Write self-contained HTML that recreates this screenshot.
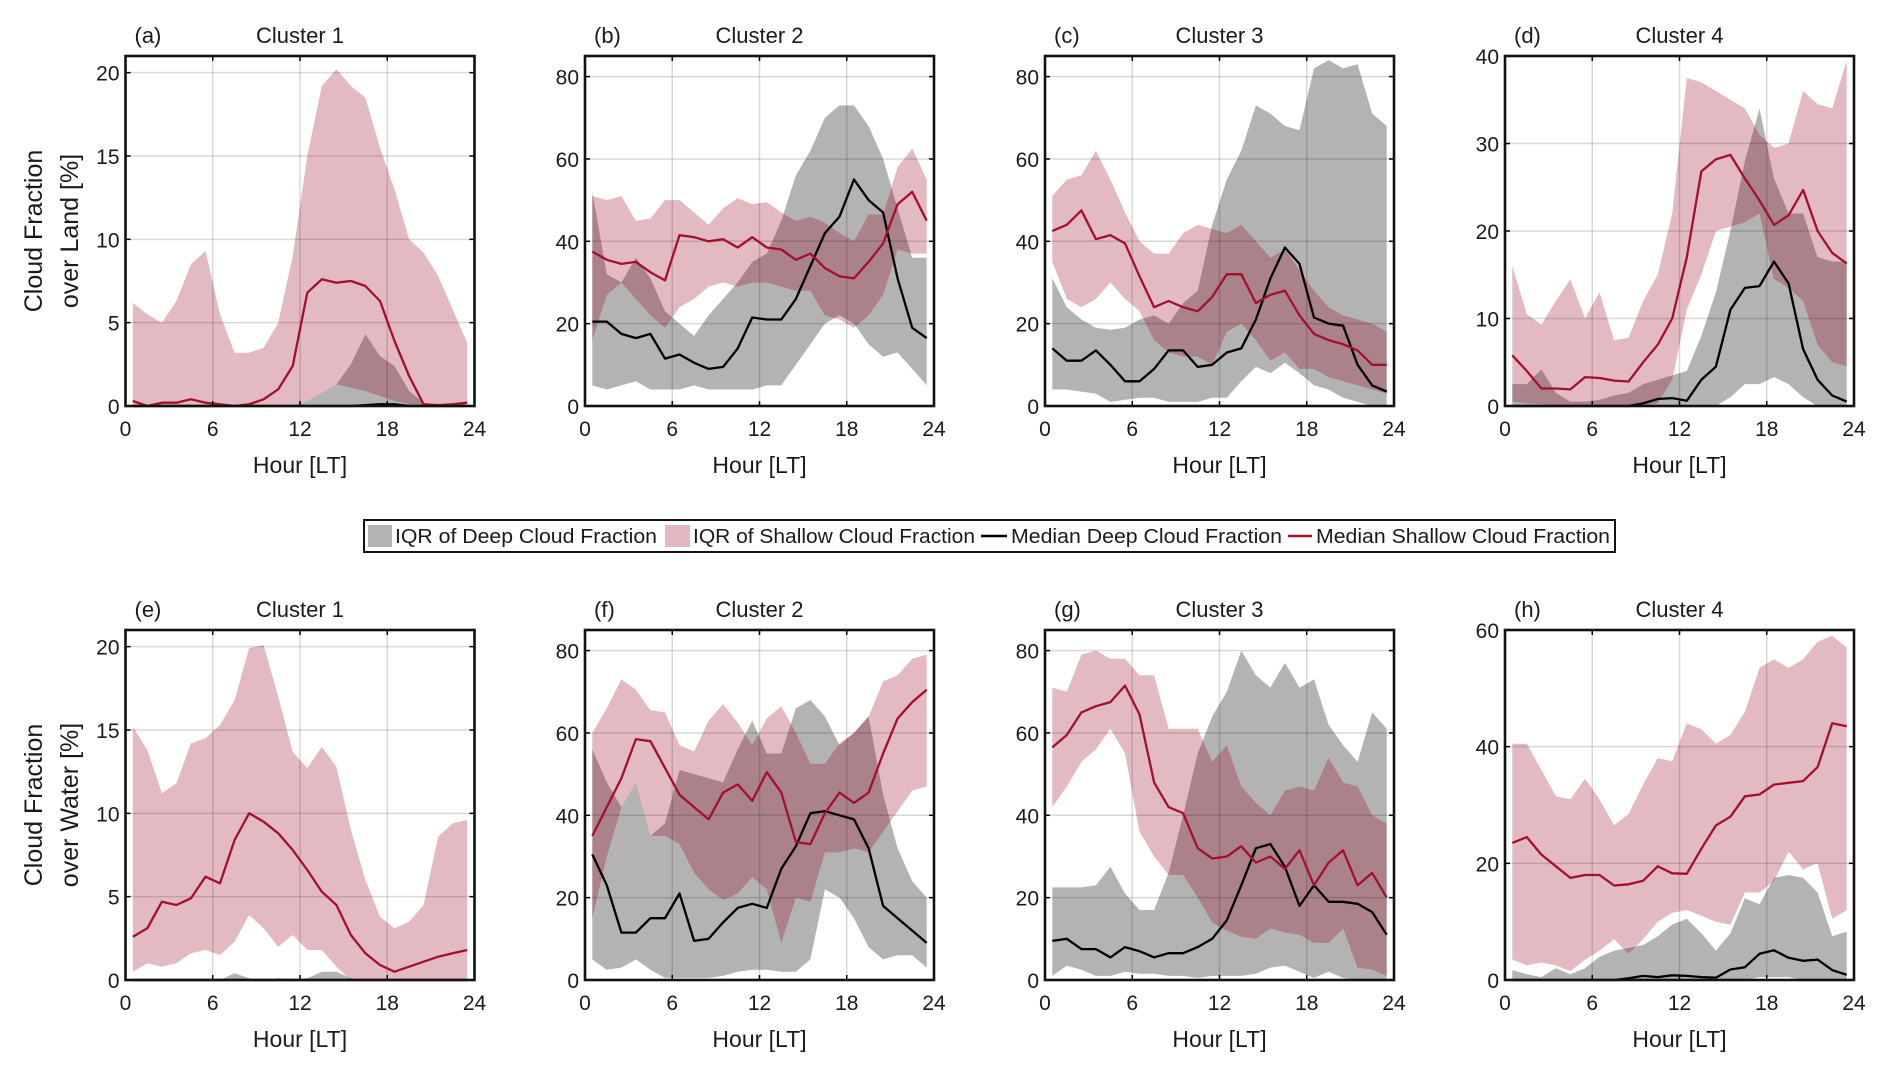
<!DOCTYPE html>
<html><head><meta charset="utf-8"><style>
html,body{margin:0;padding:0;background:#fff;}
svg{display:block;}
text{font-family:"Liberation Sans",sans-serif;fill:#1a1a1a;}
</style></head><body>
<svg id="fig" xmlns="http://www.w3.org/2000/svg" width="1892" height="1077" viewBox="0 0 1892 1077"></svg>
<script>
const hours=[0.5,1.5,2.5,3.5,4.5,5.5,6.5,7.5,8.5,9.5,10.5,11.5,12.5,13.5,14.5,15.5,16.5,17.5,18.5,19.5,20.5,21.5,22.5,23.5];
const xTicks=[0,6,12,18,24];
// (a) land cluster 1
const a_shUp=[6.2,5.5,5.0,6.3,8.5,9.3,5.5,3.2,3.2,3.5,5.0,9.0,15,19.2,20.2,19.2,18.5,15.5,13.0,10.0,9.2,7.8,5.8,3.8];
const a_shLo=[0,0,0,0,0,0,0,0,0,0,0,0,0.3,0.8,1.3,1.1,0.9,0.6,0.3,0.1,0,0,0,0];
const a_shMed=[0.3,0.0,0.2,0.2,0.4,0.2,0.1,0.0,0.1,0.4,1.0,2.4,6.8,7.6,7.4,7.5,7.2,6.3,3.9,1.8,0.1,0.05,0.1,0.2];
const a_dpUp=[0,0,0,0,0,0,0,0,0,0,0,0,0.3,0.8,1.3,2.5,4.3,3.0,2.4,0.9,0.2,0,0,0];
const a_dpLo=[0,0,0,0,0,0,0,0,0,0,0,0,0,0,0,0,0,0,0,0,0,0,0,0];
const a_dpMed=[0,0,0,0,0,0,0,0,0,0,0,0,0,0,0,0,0.05,0.1,0.1,0,0,0,0,0];
// (b) land cluster 2
const b_shUp=[51,50,51,45,45.5,50,50,47,44,48,50.5,49,49.5,47,45,46,44.5,42,40,46.5,46.5,58,62.5,55];
const b_shLo=[16,27,30,26,22,19,24,26,29,30,29,30,30,29,28,28,22,21,19,22,27,38,37,37];
const b_shMed=[37.5,35.5,34.5,35,32.5,30.5,41.5,41,40,40.5,38.5,41,38.5,38,35.5,37,33.5,31.5,31,35,39.5,49,52,45];
const b_dpUp=[52,32,30,36,31,23,20,17,22,26,30,35,37,45,56,62,70,73,73,68,60,48,36,36];
const b_dpLo=[5,4,5,6,4,4,4,5,4,4,4,4,5,5,10,15,20,22,20,15,12,13,9,5];
const b_dpMed=[20.5,20.5,17.5,16.5,17.5,11.5,12.5,10.5,9,9.5,14,21.5,21,21,26,34,42,46,55,50,47,31,19,16.5];
// (c) land cluster 3
const c_shUp=[51,55,56,62,55,47,40,37,37,42,44,43,42,44,40,36,38,33,28,24,22,21,20,18];
const c_shLo=[35,26,24,26,30,26,23,16,13,12,12,10,18,20,16,11,13,9,9,7,6,5,4,3];
const c_shMed=[42.5,44,47.5,40.5,41.5,39.5,31.5,24,25.5,24,23,26.5,32,32,25,27,28,22,17.5,16,15,13.5,10,10];
const c_dpUp=[31,24,21,19,18.5,19,21,22,20,25,28,44,55,62,73,71,68,67,82,84,82,83,71,68];
const c_dpLo=[4,4,3.5,3,1,1.5,2,2,1,1,1,2,2,6,9.5,8,10.5,8,5,4,2,1,0,0];
const c_dpMed=[14,11,11,13.5,10,6,6,9,13.5,13.5,9.5,10,13,14,21,31,38.5,34.5,21.5,20,19.5,10,5,3.5];
// (d) land cluster 4
const d_shUp=[16,10.5,9.3,12,14.5,10,13,7.5,7.8,12,15,22,37.5,37,36,35,34,31,29.5,30,36,34.5,34,39.5];
const d_shLo=[0.5,0.3,0.2,0.1,0,0,0,0,0,0,0.3,3,11,15,20,20.5,21,22,14.5,13.5,12,7,5,4.5];
const d_shMed=[5.8,4,2,2,1.9,3.3,3.2,2.9,2.8,5,7,10,17,26.8,28.2,28.7,26,23.5,20.7,21.8,24.7,20,17.5,16.3];
const d_dpUp=[2.5,2.5,4.2,1.5,0.5,0.5,0.7,1.2,1.5,2.5,3,3.5,4,8,13,20,28,34,26,22,22,17,16.5,16.5];
const d_dpLo=[0,0,0,0,0,0,0,0,0,0,0,0,0,0,0,1,2.5,2.5,3.3,2.5,1,0,0,0];
const d_dpMed=[0,0,0,0,0,0,0,0,0,0.3,0.8,0.9,0.6,3,4.5,11,13.5,13.7,16.5,14,6.5,3,1.2,0.5];
// (e) water cluster 1
const e_shUp=[15.2,13.8,11.2,11.8,14.2,14.5,15.3,16.8,19.9,20.1,17,13.7,12.7,14,12.8,9,6,3.8,3.1,3.5,4.5,8.6,9.4,9.6];
const e_shLo=[0.5,1.0,0.8,1.0,1.6,1.8,1.5,2.3,3.9,3.1,2.0,2.7,1.8,1.8,0.8,0,0,0,0,0,0,0,0,0];
const e_shMed=[2.6,3.1,4.7,4.5,4.9,6.2,5.8,8.4,10,9.5,8.8,7.8,6.6,5.3,4.5,2.7,1.6,0.9,0.5,0.8,1.1,1.4,1.6,1.8];
const e_dpUp=[0,0,0,0,0,0,0,0.4,0.1,0,0.1,0.05,0.1,0.5,0.5,0.1,0,0,0,0,0,0,0,0];
const e_dpLo=[0,0,0,0,0,0,0,0,0,0,0,0,0,0,0,0,0,0,0,0,0,0,0,0];
const e_dpMed=[0,0,0,0,0,0,0,0,0,0,0,0,0,0,0,0,0,0,0,0,0,0,0,0];
// (f) water cluster 2
const f_shUp=[60,66,73,70.5,65.5,65,57,55.5,63,67,62.5,57,63.5,66.5,60,52.5,52.5,57.5,60,64,72.5,74,78,79];
const f_shLo=[15,30,42,48,35,35,33,26,22,19.5,21,25,22,9,20,19,31,31,32,31,36,41,46,47];
const f_shMed=[35,42,49,58.5,58,51.5,45,42,39,45.5,47.5,43.5,50.5,45.5,33.5,33,40.5,45.5,43,45.5,55,63.5,67.5,70.5];
const f_dpUp=[56,48,42,48,35,38,51,50,49,48,56,63,55,55,66,68,64,57,60,64,45,32,24,20];
const f_dpLo=[5,2.5,3,5,2.5,0.5,0.5,0.5,0.5,1,2,2.5,2.5,2,2,5,22,20,15,8,5,6,6,3];
const f_dpMed=[30.5,23,11.5,11.5,15,15,21,9.5,10,14,17.5,18.5,17.5,27,32.5,40.5,41,40,39,32,18,15,12,9];
// (g) water cluster 3
const g_shUp=[71,70,79,80,78,78,74,74,61,61,61,53,57,47,43,40,46,47,46,54,48,47,40,38];
const g_shLo=[42,47,53,56,61,55,36,30,25.5,25.5,20,14,12,10.5,10,12.5,11.5,11,9,9,12.5,3,2.5,1];
const g_shMed=[56.5,59.5,65,66.5,67.5,71.5,64.5,48,42,40.5,32,29.5,30,32.5,28.5,30,27,31.5,23,28.5,31.5,23,26,20];
const g_dpUp=[22.5,22.5,22.5,23,27.5,21,17,17,26,40,55,64,70,80,74,71,77,71,73,62,57,53,65,61];
const g_dpLo=[1,3.5,2.5,1,1,2,1.5,1.5,1,1,0.5,1,1,1,1.5,3,3.5,2,0.5,2,0.5,0,0,0];
const g_dpMed=[9.5,10,7.5,7.5,5.5,8,7,5.5,6.5,6.5,8,10,14.5,23,32,33,27.5,18,23,19,19,18.5,16.5,11];
// (h) water cluster 4
const h_shUp=[40.5,40.5,36,31.5,31,34.5,31,26.5,28.5,33.5,38,37.5,44,43,40.5,42,46,53.5,55,53.5,55,58,59,57];
const h_shLo=[3.5,2.5,3,2.5,1.5,3.5,5,7,4.5,7,10,11.5,12,11,10,9.5,15,15,17,22,19,20,10.5,12];
const h_shMed=[23.5,24.5,21.5,19.5,17.5,18,18,16.2,16.4,17,19.5,18.3,18.2,22.5,26.5,28,31.5,31.8,33.5,33.8,34.1,36.5,44,43.5];
const h_dpUp=[1.7,1,0.5,2,1,2,4,5,5.5,6,7.5,9.5,10.5,8,5,8,14,13,17.5,18,17.5,15,7.5,8.3];
const h_dpLo=[0,0,0,0,0,0,0,0,0,0,0,0,0,0,0,0,0,0.5,0.5,0.5,0,0,0,0];
const h_dpMed=[0,0,0,0,0,0,0,0,0.3,0.7,0.5,0.8,0.7,0.5,0.4,1.8,2.2,4.5,5.1,3.8,3.3,3.5,1.7,0.9];
// axis limits & ticks
const yMaxes=[21,85,85,40,21,85,85,60];
const yTickSets=[[0,5,10,15,20],[0,20,40,60,80],[0,20,40,60,80],[0,10,20,30,40],[0,5,10,15,20],[0,20,40,60,80],[0,20,40,60,80],[0,20,40,60]];
const panelLetters=['(a)','(b)','(c)','(d)','(e)','(f)','(g)','(h)'];
const clusterTitles=['Cluster 1','Cluster 2','Cluster 3','Cluster 4','Cluster 1','Cluster 2','Cluster 3','Cluster 4'];

const NS='http://www.w3.org/2000/svg';
const svg=document.getElementById('fig');
function mk(tag,attrs,parent,txt){const e=document.createElementNS(NS,tag);for(const k in attrs)e.setAttribute(k,attrs[k]);if(txt!==undefined)e.textContent=txt;(parent||svg).appendChild(e);return e;}

const series=[
 [a_shUp,a_shLo,a_shMed,a_dpUp,a_dpLo,a_dpMed],
 [b_shUp,b_shLo,b_shMed,b_dpUp,b_dpLo,b_dpMed],
 [c_shUp,c_shLo,c_shMed,c_dpUp,c_dpLo,c_dpMed],
 [d_shUp,d_shLo,d_shMed,d_dpUp,d_dpLo,d_dpMed],
 [e_shUp,e_shLo,e_shMed,e_dpUp,e_dpLo,e_dpMed],
 [f_shUp,f_shLo,f_shMed,f_dpUp,f_dpLo,f_dpMed],
 [g_shUp,g_shLo,g_shMed,g_dpUp,g_dpLo,g_dpMed],
 [h_shUp,h_shLo,h_shMed,h_dpUp,h_dpLo,h_dpMed]
];
const colX=[125.5,585,1045,1505], PW=349;
const rowY=[56,630], PH=350;

series.forEach((s,i)=>{
  const x0=colX[i%4], y0=rowY[Math.floor(i/4)], ymax=yMaxes[i];
  const g=mk('g',{});
  
  
  const X=h=>x0+h/24*PW, Y=v=>y0+PH-v/ymax*PH;
  const band=(up,lo)=>{let d='M'+hours.map((h,k)=>X(h).toFixed(1)+','+Y(up[k]).toFixed(1)).join('L');
    for(let k=hours.length-1;k>=0;k--)d+='L'+X(hours[k]).toFixed(1)+','+Y(lo[k]).toFixed(1);return d+'Z';};
  const line=v=>'M'+hours.map((h,k)=>X(h).toFixed(1)+','+Y(v[k]).toFixed(1)).join('L');
  const deepBand=mk('path',{d:band(s[3],s[4]),fill:'#b3b3b3'},g);
  
  
  const shBand=mk('path',{d:band(s[0],s[1]),fill:'rgb(152,0,26)','fill-opacity':0.27},g);
  
  
  xTicks.forEach(t=>{ if(t>0&&t<24){const l=mk('line',{x1:X(t),x2:X(t),y1:y0,y2:y0+PH,stroke:'rgba(0,0,0,0.15)','stroke-width':1.5},g);
    
    }});
  yTickSets[i].forEach(t=>{ if(t>0&&t<ymax){const l=mk('line',{x1:x0,x2:x0+PW,y1:Y(t),y2:Y(t),stroke:'rgba(0,0,0,0.15)','stroke-width':1.5},g);
    
    }});
  const dm=mk('path',{d:line(s[5]),fill:'none',stroke:'#000','stroke-width':2.3,'stroke-linejoin':'round'},g);
  
  
  const sm=mk('path',{d:line(s[2]),fill:'none',stroke:'#a3102e','stroke-width':2.3,'stroke-linejoin':'round'},g);
  
  
  xTicks.forEach(t=>{
    mk('line',{x1:X(t),x2:X(t),y1:y0+PH,y2:y0+PH-5,stroke:'#000','stroke-width':1.5},g);
    mk('line',{x1:X(t),x2:X(t),y1:y0,y2:y0+5,stroke:'#000','stroke-width':1.5},g);
    const tl=mk('text',{x:X(t),y:y0+PH+30,'text-anchor':'middle','font-size':21},g,String(t));
    
    
  });
  yTickSets[i].forEach(t=>{
    mk('line',{x1:x0,x2:x0+5,y1:Y(t),y2:Y(t),stroke:'#000','stroke-width':1.5},g);
    mk('line',{x1:x0+PW,x2:x0+PW-5,y1:Y(t),y2:Y(t),stroke:'#000','stroke-width':1.5},g);
    const tl=mk('text',{x:x0-6,y:Y(t)+8,'text-anchor':'end','font-size':21},g,String(t));
    
    
  });
  const box=mk('rect',{x:x0,y:y0,width:PW,height:PH,fill:'none',stroke:'#111','stroke-width':2.6},g);
  
  
  const xl=mk('text',{x:x0+PW/2,y:y0+PH+67,'text-anchor':'middle','font-size':23},g,'Hour [LT]');
  
  
  const pl=mk('text',{x:x0+9,y:y0-13,'font-size':22},g,panelLetters[i]);
  
  
  const ct=mk('text',{x:x0+PW/2,y:y0-13,'text-anchor':'middle','font-size':22},g,clusterTitles[i]);
  
  
});
[['Cloud Fraction','over Land [%]',231],['Cloud Fraction','over Water [%]',805]].forEach(r=>{
  const t1=mk('text',{x:0,y:0,transform:'translate(42,'+r[2]+') rotate(-90)','text-anchor':'middle','font-size':25,'font-family':'DejaVu Sans, sans-serif'},svg,r[0]);
  
  
  const t2=mk('text',{x:0,y:0,transform:'translate(78,'+r[2]+') rotate(-90)','text-anchor':'middle','font-size':25,'font-family':'DejaVu Sans, sans-serif'},svg,r[1]);
  
  
});
const lg=mk('g',{});


mk('rect',{x:364,y:520,width:1251,height:32,fill:'#fff',stroke:'#111','stroke-width':2},lg);
const e1=mk('rect',{x:368,y:525,width:24,height:22,fill:'#b3b3b3'},lg);


const e2=mk('rect',{x:665,y:525,width:25,height:22,fill:'#e3b8c1'},lg);


const e3=mk('line',{x1:981,x2:1007,y1:536,y2:536,stroke:'#000','stroke-width':2.5},lg);


const e4=mk('line',{x1:1288,x2:1312,y1:536,y2:536,stroke:'#a3102e','stroke-width':2.5},lg);


[[395,262,'IQR of Deep Cloud Fraction'],[693,282,'IQR of Shallow Cloud Fraction'],[1011,271,'Median Deep Cloud Fraction'],[1316,294,'Median Shallow Cloud Fraction']].forEach(l=>{
  const t=mk('text',{x:l[0],y:543,'font-size':20,textLength:l[1],lengthAdjust:'spacingAndGlyphs'},lg,l[2]);
  
  
});
</script>
</body></html>
